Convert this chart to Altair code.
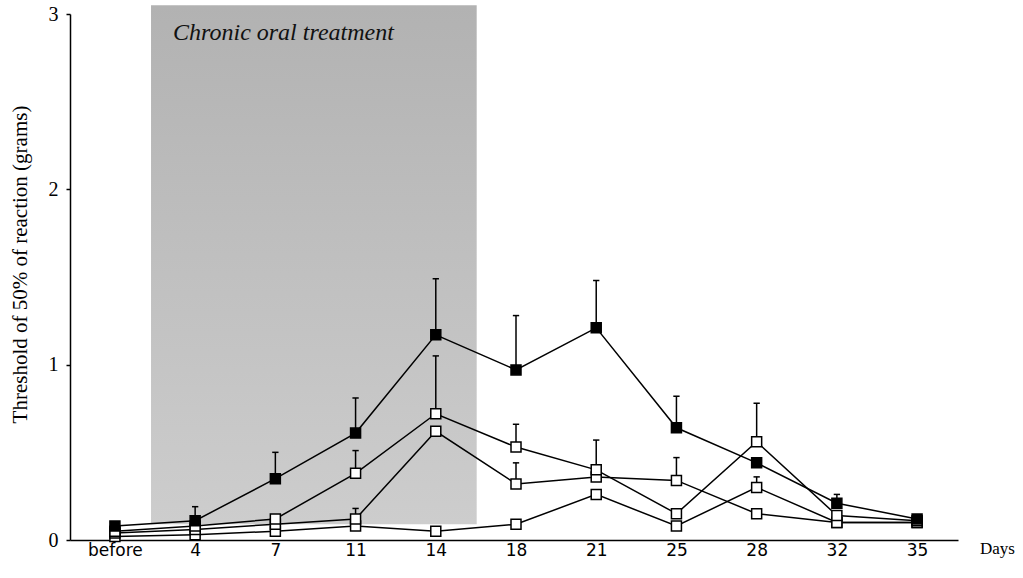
import altair as alt
import pandas as pd

# ---- data ----
days = ["before", "4", "7", "11", "14", "18", "21", "25", "28", "32", "35"]

series_names = ["filled", "open_a", "open_b", "open_c"]
filled_vals = [0.08, 0.11, 0.35, 0.61, 1.17, 0.97, 1.21, 0.64, 0.44, 0.21, 0.12]
filled_sem = [0.00, 0.08, 0.15, 0.20, 0.32, 0.31, 0.27, 0.18, 0.00, 0.05, 0.00]
open_a_vals = [0.05, 0.08, 0.12, 0.38, 0.72, 0.53, 0.40, 0.15, 0.56, 0.14, 0.11]
open_a_sem = [0.00, 0.00, 0.00, 0.13, 0.33, 0.13, 0.17, 0.00, 0.22, 0.00, 0.00]
open_b_vals = [0.04, 0.06, 0.09, 0.12, 0.62, 0.32, 0.36, 0.34, 0.15, 0.10, 0.10]
open_b_sem = [0.00, 0.00, 0.00, 0.06, 0.00, 0.12, 0.00, 0.13, 0.00, 0.00, 0.00]
open_c_vals = [0.02, 0.03, 0.05, 0.08, 0.05, 0.09, 0.26, 0.08, 0.30, 0.10, 0.10]
open_c_sem = [0.00, 0.00, 0.00, 0.00, 0.00, 0.00, 0.00, 0.00, 0.06, 0.00, 0.00]

treatment_start = 0.45   # in category-index units
treatment_end = 4.51
treatment_bottom = 0.09
treatment_top = 3.05
treatment_label = "Chronic oral treatment"

y_ticks = [0, 1, 2, 3]

# ---- build table ----
vals = [filled_vals, open_a_vals, open_b_vals, open_c_vals]
sems = [filled_sem, open_a_sem, open_b_sem, open_c_sem]
rows = []
for name, v, s in zip(series_names, vals, sems):
    for i, d in enumerate(days):
        rows.append({"idx": i, "day": d, "series": name, "value": v[i],
                     "sem": s[i], "top": v[i] + s[i]})
df = pd.DataFrame(rows)
df_err = df[df["sem"] > 0]

shade_df = pd.DataFrame([{"x": treatment_start, "x2": treatment_end,
                          "y": treatment_bottom, "y2": treatment_top}])

label_expr = "[" + ",".join(f"'{d}'" for d in days) + "][datum.value]"

xscale = alt.Scale(domain=[-0.56, 10.51], nice=False, zero=False)
yscale = alt.Scale(domain=[0, 3], nice=False)

x_enc = alt.X("idx:Q", scale=xscale,
              axis=alt.Axis(values=list(range(len(days))), labelExpr=label_expr,
                            title=None, grid=False, ticks=False, domainColor="black",
                            domainWidth=1.5, labelFont="DejaVu Sans", labelFontSize=17,
                            labelColor="black", labelPadding=2))
y_enc = alt.Y("value:Q", scale=yscale,
              axis=alt.Axis(values=y_ticks, format="d",
                            title="Threshold of 50% of reaction (grams)",
                            grid=False, tickSize=4, tickColor="black", tickWidth=1.5,
                            domainColor="black", domainWidth=1.5,
                            labelFont="Liberation Serif", labelFontSize=20,
                            labelColor="black", labelPadding=8,
                            titleFont="Liberation Serif", titleFontSize=21,
                            titleFontWeight="normal", titleColor="black",
                            titleX=-50, titleY=250, titleBaseline="middle"))

shade = alt.Chart(shade_df).mark_rect(
    fill=alt.Gradient(gradient="linear",
                      stops=[alt.GradientStop(offset=0, color="#b2b2b2"),
                             alt.GradientStop(offset=1, color="#cdcdcd")],
                      x1=0, y1=0, x2=0, y2=1)
).encode(x=alt.X("x:Q", scale=xscale), x2="x2:Q",
         y=alt.Y("y:Q", scale=yscale), y2="y2:Q")

label = alt.Chart(pd.DataFrame([{"t": treatment_label}])).mark_text(
    font="Liberation Serif", fontStyle="italic", fontSize=24, color="#111111",
    align="left", baseline="middle"
).encode(text="t:N", x=alt.value(103), y=alt.value(19))

days_label = alt.Chart(pd.DataFrame([{"t": "Days"}])).mark_text(
    font="Liberation Serif", fontSize=17, color="black", align="left", baseline="middle"
).encode(text="t:N", x=alt.value(910), y=alt.value(535))

lines = alt.Chart(df).mark_line(color="black", strokeWidth=1.5).encode(
    x=x_enc, y=y_enc, detail="series:N")

err = alt.Chart(df_err).mark_rule(color="black", strokeWidth=1.5).encode(
    x=alt.X("idx:Q", scale=xscale), y=alt.Y("value:Q", scale=yscale), y2="top:Q")

caps = alt.Chart(df_err).mark_point(shape="M-1,0L1,0", size=40, filled=False,
                                    color="black", strokeWidth=1.5, opacity=1).encode(
    x=alt.X("idx:Q", scale=xscale), y=alt.Y("top:Q", scale=yscale))

markers = alt.Chart(df).mark_point(shape="square", size=100, filled=True,
                                   stroke="black", strokeWidth=1.5, opacity=1).encode(
    x=alt.X("idx:Q", scale=xscale), y=alt.Y("value:Q", scale=yscale),
    fill=alt.Fill("series:N", scale=alt.Scale(domain=series_names,
                                              range=["black", "white", "white", "white"]),
                  legend=None),
    order=alt.Order("series:N", sort="descending"))

chart = alt.layer(shade, label, lines, err, caps, markers, days_label).properties(
    width=888, height=526,
    autosize=alt.AutoSizeParams(type="none"),
    padding={"left": 70, "top": 14, "right": 65, "bottom": 38},
    background="white"
).configure_view(stroke=None).configure_axis(
    titleFont="Liberation Serif", labelColor="black"
)

chart.save("out.html", embed_options={"renderer": "svg", "actions": False})
